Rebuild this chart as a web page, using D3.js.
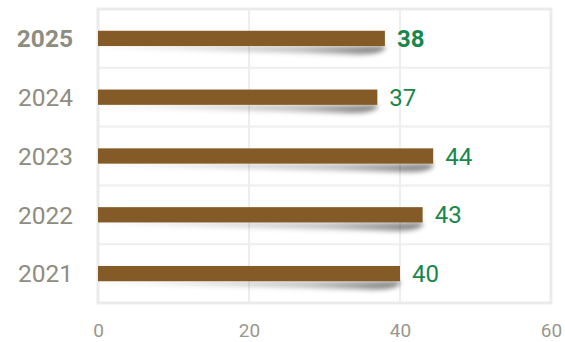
<!DOCTYPE html>
<html><head><meta charset="utf-8">
<script src="https://cdn.jsdelivr.net/npm/d3@7"></script>
<style>body{margin:0;background:#fff}svg{display:block;font-family:Roboto,"Noto Sans",sans-serif}</style>
</head><body><svg id="c" width="565" height="342"></svg>
<script>
const years = ["2025","2024","2023","2022","2021"];
const values = [38, 37, 44.4, 43, 40];
const xTicks = [0, 20, 40, 60];

const W = 565, H = 342, m = {l: 98, r: 14, t: 9, b: 39};
const svg = d3.select("#c");
const x = d3.scaleLinear().domain([0, 60]).range([m.l, W - m.r]);
const y = d3.scaleBand().domain(years).range([m.t, H - m.b]).paddingInner(0.74).paddingOuter(0.37);
const step = y.step();

const defs = svg.append("defs");
const f = defs.append("filter").attr("id", "blur").attr("x", "-20%").attr("y", "-100%").attr("width", "140%").attr("height", "300%");
f.append("feGaussianBlur").attr("stdDeviation", 2.6);
const g = defs.append("linearGradient").attr("id", "sg").attr("x1", 0).attr("x2", 1);
g.append("stop").attr("offset", "0%").attr("stop-color", "#000").attr("stop-opacity", 0.04);
g.append("stop").attr("offset", "70%").attr("stop-color", "#000").attr("stop-opacity", 0.25);
g.append("stop").attr("offset", "100%").attr("stop-color", "#000").attr("stop-opacity", 0.5);

// grid
const grid = svg.append("g").attr("stroke", "#eeeeee").attr("stroke-width", 2);
xTicks.forEach(t => grid.append("line").attr("x1", x(t)).attr("x2", x(t)).attr("y1", m.t).attr("y2", H - m.b));
d3.range(years.length + 1).forEach(i => {
  const yy = m.t + i * step;
  grid.append("line").attr("x1", m.l).attr("x2", W - m.r).attr("y1", yy).attr("y2", yy);
});
svg.append("rect").attr("x", m.l).attr("y", m.t).attr("width", W - m.l - m.r).attr("height", H - m.t - m.b)
  .attr("fill", "none").attr("stroke", "#ebebeb").attr("stroke-width", 3);

// shadows
svg.append("g").selectAll("path").data(years).join("path")
  .attr("d", (d, i) => {
    const x0 = x(0), xe = x(values[i]), yb = y(d) + y.bandwidth();
    return `M${x0},${yb} L${xe},${yb} L${xe},${yb + 3} Q${xe - 8},${yb + 10} ${xe - 40},${yb + 8} L${x0 + 10},${yb + 1.5} Z`;
  })
  .attr("fill", "url(#sg)").attr("filter", "url(#blur)");

// bars
svg.append("g").selectAll("rect").data(years).join("rect")
  .attr("x", x(0)).attr("y", d => y(d)).attr("height", y.bandwidth())
  .attr("width", (d, i) => x(values[i]) - x(0)).attr("fill", "#845b26");

// value labels
svg.append("g").selectAll("text").data(years).join("text")
  .attr("x", (d, i) => x(values[i]) + 12).attr("y", d => y(d) + y.bandwidth() / 2)
  .attr("dy", "0.36em").attr("fill", "#17884a").attr("font-size", 24)
  .attr("font-weight", (d, i) => i === 0 ? 700 : 400)
  .text((d, i) => d3.format(".0f")(values[i]));

// y labels
svg.append("g").selectAll("text").data(years).join("text")
  .attr("x", 73).attr("y", d => y(d) + y.bandwidth() / 2).attr("dy", "0.36em")
  .attr("text-anchor", "end").attr("fill", "#8f8c80").attr("font-size", 24.5)
  .attr("font-weight", (d, i) => i === 0 ? 700 : 400).text(d => d);

// x tick labels
const xa = svg.append("g").attr("transform", `translate(0,${H - m.b})`)
  .call(d3.axisBottom(x).tickValues(xTicks).tickSize(0).tickPadding(21));
xa.select(".domain").remove();
xa.selectAll("text").attr("fill", "#9a978c").attr("font-size", 19).attr("font-family", "Roboto, sans-serif");
</script></body></html>
